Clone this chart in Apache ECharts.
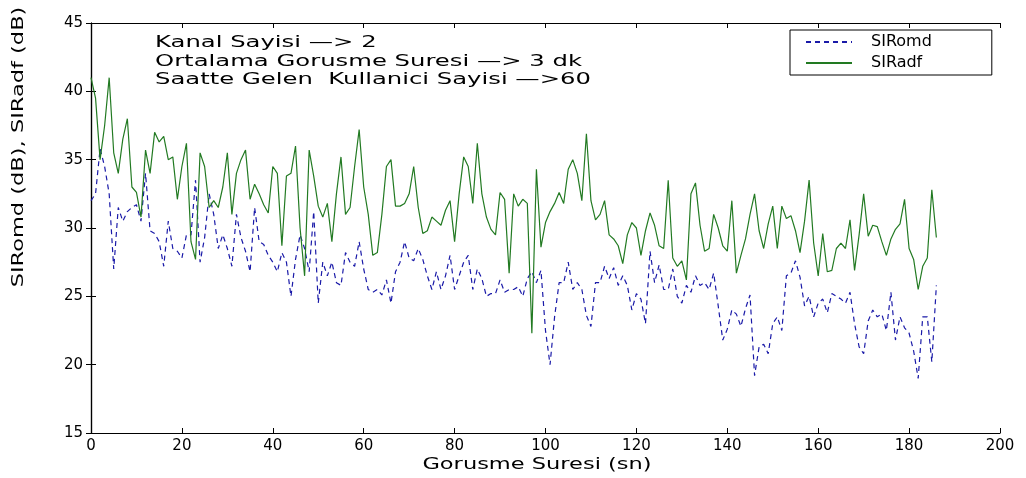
<!DOCTYPE html>
<html>
<head>
<meta charset="utf-8">
<script src="https://cdn.jsdelivr.net/npm/echarts@6/dist/echarts.min.js"></script>
<style>
html,body{margin:0;padding:0;background:#fff;}
#chart{width:1026px;height:478px;}
</style>
</head>
<body>
<div id="chart"></div>
<script>
// ---- data ----
const seriesNames = ['SIRomd', 'SIRadf'];
const xTicks = [0, 20, 40, 60, 80, 100, 120, 140, 160, 180, 200];
const yTicks = [15, 20, 25, 30, 35, 40, 45];
const annotationLines = [
  'Kanal Sayisi \u2014> 2',
  'Ortalama Gorusme Suresi \u2014> 3 dk',
  'Saatte Gelen  Kullanici Sayisi \u2014>60'
];
const xTitle = 'Gorusme Suresi (sn)';
const yTitle = 'SIRomd (dB), SIRadf (dB)';

// SIRomd (blue dashed), one value per second, t = 0..186
const sirOmd = [
  32, 32.5, 35.8, 34.5, 32.5, 27, 31.5, 30.5, 31.2, 31.5,
  31.7, 30.5, 34, 29.8, 29.6, 29, 27.2, 30.5, 28.5, 28.3,
  27.8, 29.5, 29.5, 33.5, 27.5, 29.3, 32.5, 31, 28.5, 29.5,
  28.5, 27.2, 31, 29.3, 28.3, 26.8, 31.5, 29, 28.8, 28,
  27.5, 26.8, 28.2, 27.5, 25, 27.7, 29.5, 28.5, 26.8, 31.2,
  24.5, 27.5, 26.5, 27.5, 26, 25.8, 28.2, 27.5, 27.2, 29,
  27, 25.5, 25.3, 25.5, 25.1, 26.2, 24.5, 26.8, 27.5, 29,
  27.8, 27.6, 28.5, 27.7, 26.5, 25.5, 26.8, 25.5, 26.5, 28,
  25.5, 26.5, 27.5, 28, 25.5, 27, 26.3, 25, 25.2, 25.2,
  26.2, 25.3, 25.5, 25.5, 25.7, 25, 26.3, 26.8, 26, 26.9,
  22.5, 20, 23.5, 26, 26, 27.5, 25.5, 26, 25.5, 23.6,
  22.8, 26, 26, 27.2, 26.3, 27.1, 25.8, 26.5, 25.8, 24,
  25.2, 24.8, 23, 28.3, 26, 27.3, 25.5, 25.5, 27, 25,
  24.5, 25.8, 25.3, 26.5, 25.8, 26, 25.5, 26.7, 24.3, 21.8,
  22.6, 24, 23.7, 22.8, 24.1, 25.1, 19.2, 21.3, 21.5, 20.8,
  23, 23.5, 22.5, 26.5, 26.7, 27.6, 26.4, 24.3, 25, 23.5,
  24.5, 24.8, 23.8, 25.2, 25, 24.8, 24.5, 25.3, 23, 21.3,
  20.8, 23.2, 24, 23.5, 23.7, 22.5, 25.3, 21.8, 23.5, 22.7,
  22.3, 21, 19, 23.5, 23.5, 20.2, 25.8
];

// SIRadf (green solid), one value per second, t = 0..186
const sirAdf = [
  41, 39.5, 35, 37.5, 41, 35.5, 34, 36.5, 38, 33,
  32.6, 30.8, 35.7, 34, 37, 36.3, 36.7, 35, 35.2, 32.1,
  34.5, 36.2, 29, 27.7, 35.5, 34.5, 31.5, 32, 31.5, 33,
  35.5, 31, 34, 35, 35.7, 32.1, 33.2, 32.5, 31.7, 31.1,
  34.5, 34, 28.7, 33.8, 34, 36, 30, 26.5, 35.7, 33.8,
  31.6, 30.8, 31.8, 29, 32.5, 35.2, 31, 31.5, 34.5, 37.2,
  33, 31, 28, 28.2, 31, 34.5, 35, 31.6, 31.6, 31.8,
  32.5, 34.5, 31.5, 29.6, 29.8, 30.8, 30.5, 30.2, 31.3, 32,
  29, 32.5, 35.2, 34.5, 31.8, 36.2, 32.5, 30.8, 29.9, 29.5,
  32.6, 32.1, 26.7, 32.5, 31.6, 32.1, 31.8, 22.3, 34.3, 28.6,
  30.4, 31.2, 31.8, 32.6, 31.8, 34.3, 35, 34, 32, 36.9,
  32, 30.6, 31, 32, 29.5, 29.2, 28.7, 27.4, 29.5, 30.4,
  30, 28, 29.8, 31.1, 30.2, 28.7, 28.5, 33.5, 27.8, 27.2,
  27.6, 26.2, 32.5, 33.3, 30.2, 28.3, 28.5, 31, 30, 28.7,
  28.3, 32, 26.7, 28, 29.2, 31, 32.5, 29.8, 28.5, 30.3,
  31.6, 28.5, 31.6, 30.7, 30.9, 29.8, 28.2, 30.5, 33.5, 28.9,
  26.5, 29.6, 26.8, 26.9, 28.5, 28.9, 28.5, 30.6, 26.9, 29.5,
  32.5, 29.4, 30.2, 30.1, 29, 28, 29.2, 29.9, 30.3, 32.1,
  28.5, 27.7, 25.5, 27.2, 27.8, 32.8, 29.3
];

// ---- build chart ----
const FONT = 'DejaVu Sans';
const toPairs = arr => arr.map((v, i) => [i, v]);

const chart = echarts.init(document.getElementById('chart'), null, {renderer: 'canvas'});

const axisLineStyle = {show: true, lineStyle: {color: '#000', width: 1.2}};
const tickStyle = {show: true, inside: true, length: 5, lineStyle: {color: '#000', width: 1}};

const option = {
  backgroundColor: '#ffffff',
  animation: false,
  grid: {left: 91, right: 26, top: 23, bottom: 45, containLabel: false},
  xAxis: [
    {
      type: 'value', min: xTicks[0], max: xTicks[xTicks.length - 1], interval: 20,
      position: 'bottom',
      axisLine: axisLineStyle, axisTick: tickStyle, splitLine: {show: false},
      axisLabel: {color: '#000', fontFamily: FONT, fontSize: 15, margin: 6}
    },
    {
      type: 'value', min: xTicks[0], max: xTicks[xTicks.length - 1], interval: 20,
      position: 'top',
      axisLine: axisLineStyle, axisTick: tickStyle, splitLine: {show: false},
      axisLabel: {show: false}
    }
  ],
  yAxis: [
    {
      type: 'value', min: yTicks[0], max: yTicks[yTicks.length - 1], interval: 5,
      position: 'left',
      axisLine: axisLineStyle, axisTick: tickStyle, splitLine: {show: false},
      axisLabel: {color: '#000', fontFamily: FONT, fontSize: 15, margin: 8}
    },
    {
      type: 'value', min: yTicks[0], max: yTicks[yTicks.length - 1], interval: 5,
      position: 'right',
      axisLine: axisLineStyle, axisTick: tickStyle, splitLine: {show: false},
      axisLabel: {show: false}
    }
  ],
  legend: {
    show: true,
    data: seriesNames,
    orient: 'vertical',
    left: 790, top: 30,
    padding: [4, 60, 4, 15],
    itemWidth: 46, itemHeight: 14, itemGap: 5,
    backgroundColor: '#fff',
    borderColor: '#000', borderWidth: 1, borderRadius: 0,
    itemStyle: {opacity: 0, borderWidth: 0},
    textStyle: {color: '#000', fontFamily: FONT, fontSize: 16, padding: [0, 0, 0, 14]}
  },
  graphic: [
    {
      type: 'text', x: 155, y: 34, scaleX: 1.62, scaleY: 1,
      style: {
        text: annotationLines.join('\n'),
        fill: '#000', font: '15px "DejaVu Sans"', lineHeight: 18.5,
        align: 'left', verticalAlign: 'top'
      }
    },
    {
      type: 'text', x: 19, y: 147, rotation: Math.PI / 2, scaleX: 1.5, scaleY: 1,
      style: {
        text: yTitle, fill: '#000', font: '15px "DejaVu Sans"',
        align: 'center', verticalAlign: 'middle'
      }
    },
    {
      type: 'text', x: 537, y: 465, scaleX: 1.5, scaleY: 1,
      style: {
        text: xTitle, fill: '#000', font: '15px "DejaVu Sans"',
        align: 'center', verticalAlign: 'middle'
      }
    }
  ],
  series: [
    {
      name: seriesNames[0], type: 'line', xAxisIndex: 0, yAxisIndex: 0,
      data: toPairs(sirOmd), symbol: 'none', showSymbol: false,
      lineStyle: {color: '#1a1aa8', width: 1.2, type: [5, 4]},
      itemStyle: {color: '#1a1aa8'},
      z: 2
    },
    {
      name: seriesNames[1], type: 'line', xAxisIndex: 0, yAxisIndex: 0,
      data: toPairs(sirAdf), symbol: 'none', showSymbol: false,
      lineStyle: {color: '#227a22', width: 1.2, type: 'solid'},
      itemStyle: {color: '#227a22'},
      z: 3
    }
  ]
};
chart.setOption(option);
</script>
</body>
</html>
